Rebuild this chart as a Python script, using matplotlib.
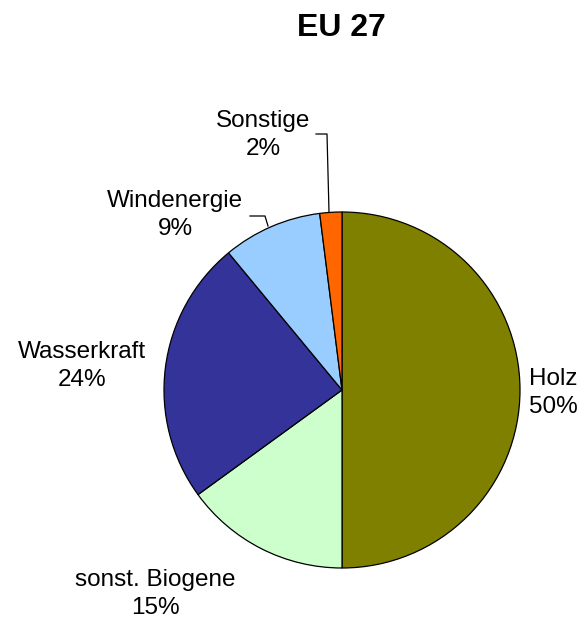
import matplotlib
matplotlib.use("Agg")
import matplotlib.pyplot as plt

title = "EU 27"
categories = ["Holz", "sonst. Biogene", "Wasserkraft", "Windenergie", "Sonstige"]
values = [50, 15, 24, 9, 2]
colors = ["#808000", "#CCFFCC", "#333399", "#99CCFF", "#FF6600"]

W, H = 582, 622
fig = plt.figure(figsize=(W / 100, H / 100), dpi=100)
ax = fig.add_axes([0, 0, 1, 1])

cx, cy, r = 342, H - 390, 178
ax.pie(values, colors=colors, startangle=90, counterclock=False,
       center=(cx, cy), radius=r, frame=True,
       wedgeprops=dict(edgecolor="black", linewidth=0.9))
ax.set_xlim(0, W)
ax.set_ylim(0, H)
ax.set_aspect("equal")
ax.axis("off")

font = "Liberation Sans"
fs = 17.5
label_pos = {
    "Holz": (553, 393),
    "sonst. Biogene": (155, 594),
    "Wasserkraft": (82, 366),
    "Windenergie": (175, 215),
    "Sonstige": (263, 135),
}
for c, v in zip(categories, values):
    x, y = label_pos[c]
    ax.text(x, H - y, f"{c}\n{v}%", ha="center", va="center", fontsize=fs,
            family=font, linespacing=1.4)

# leader lines
ax.plot([316, 327, 329], [H - 134, H - 134, H - 212], color="black", lw=0.9)
ax.plot([250, 265, 268], [H - 216, H - 216, H - 226], color="black", lw=0.9)

ax.text(341, H - 28, title, ha="center", va="center", fontsize=23,
        fontweight="bold", family=font)

fig.savefig("out.png", dpi=100)
